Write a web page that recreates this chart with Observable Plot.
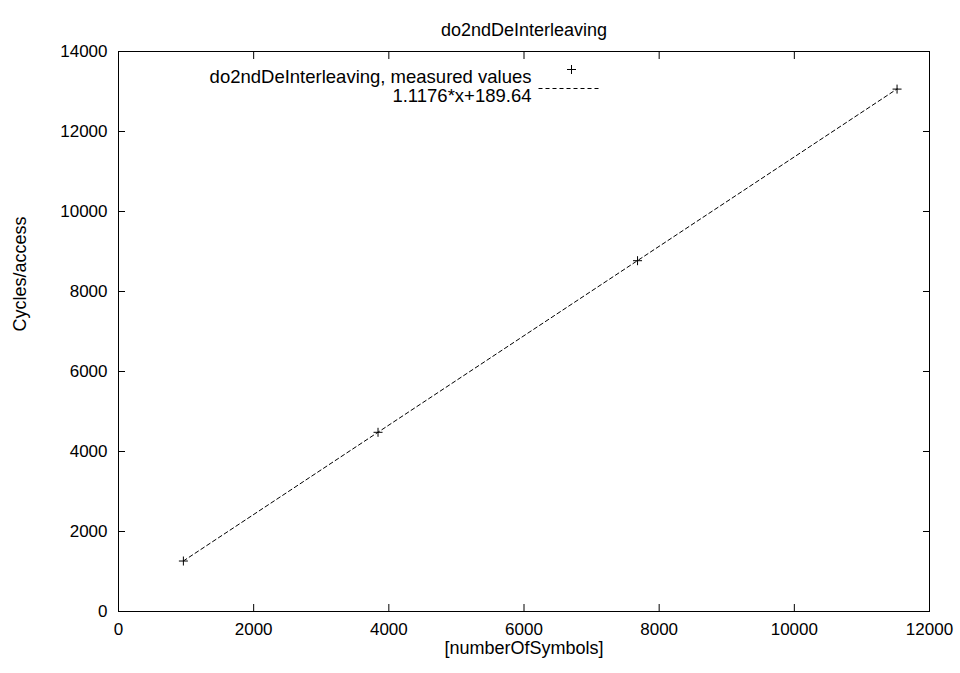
<!DOCTYPE html>
<html>
<head>
<meta charset="utf-8">
<script src="https://cdn.jsdelivr.net/npm/d3@7"></script>
<script src="https://cdn.jsdelivr.net/npm/@observablehq/plot@0.6"></script>
<style>
  html, body { margin: 0; padding: 0; background: #fff; }
  #chart svg { display: block; }
</style>
</head>
<body>
<div id="chart"></div>
<script>
// Measured points
const symbols = [960, 3840, 7680, 11520];
const cycles = [1262, 4480, 8770, 13060];
// Fitted line endpoints (1.1176*x+189.64)
const fitSymbols = [960, 11520];
const fitCycles = [1263, 13064];
// Ticks
const xTicks = [0, 2000, 4000, 6000, 8000, 10000, 12000];
const yTicks = [0, 2000, 4000, 6000, 8000, 10000, 12000, 14000];
// Texts
const titleText = "do2ndDeInterleaving";
const xLabel = "[numberOfSymbols]";
const yLabel = "Cycles/access";
const legendLabels = ["do2ndDeInterleaving, measured values", "1.1176*x+189.64"];

const points = symbols.map((s, i) => ({x: s, y: cycles[i]}));
const fit = fitSymbols.map((s, i) => ({x: s, y: fitCycles[i]}));

const plusSymbol = {
  draw(context, size) {
    const r = 4.5;
    context.moveTo(-r, 0); context.lineTo(r, 0);
    context.moveTo(0, -r); context.lineTo(0, r);
  }
};
const dashSymbol = {
  draw(context, size) {
    context.moveTo(-30, 0); context.lineTo(30, 0);
  }
};

const chart = Plot.plot({
  width: 960,
  height: 673,
  marginLeft: 118,
  marginRight: 31,
  marginTop: 51,
  marginBottom: 62,
  style: {fontFamily: "'Liberation Sans', Arial, sans-serif", fontSize: "17px", background: "white", color: "black"},
  x: {domain: [0, 12000]},
  y: {domain: [0, 14000]},
  marks: [
    Plot.frame({stroke: "black", strokeWidth: 1}),
    Plot.axisX({ticks: xTicks, tickSize: -7, tickPadding: 18, label: null, tickFormat: d => String(d), fontSize: 17}),
    Plot.axisX({anchor: "top", ticks: xTicks, tickSize: -7, tickFormat: () => "", label: null}),
    Plot.axisY({ticks: yTicks, tickSize: -7, tickPadding: 18, label: null, tickFormat: d => String(d), fontSize: 17}),
    Plot.axisY({anchor: "right", ticks: yTicks, tickSize: -7, tickFormat: () => "", label: null}),
    Plot.line(fit, {x: "x", y: "y", stroke: "black", strokeWidth: 1, strokeDasharray: "4,3"}),
    Plot.dot(points, {x: "x", y: "y", symbol: plusSymbol, stroke: "black", fill: "none", strokeWidth: 1}),
    // Title and axis labels
    Plot.text([titleText], {text: d => d, frameAnchor: "top", dy: -28, fontSize: 18}),
    Plot.text([xLabel], {text: d => d, frameAnchor: "bottom", dy: 42, fontSize: 18}),
    Plot.text([yLabel], {text: d => d, frameAnchor: "left", dx: -98, rotate: -90, fontSize: 18}),
    // Legend
    Plot.text([legendLabels[0]], {text: d => d, frameAnchor: "top-left", dx: 413, dy: 18, textAnchor: "end", fontSize: 18.5}),
    Plot.text([legendLabels[1]], {text: d => d, frameAnchor: "top-left", dx: 413, dy: 37, textAnchor: "end", fontSize: 18.5}),
    Plot.dot([0], {frameAnchor: "top-left", dx: 453, dy: 18, symbol: plusSymbol, stroke: "black", fill: "none", strokeWidth: 1}),
    Plot.dot([0], {frameAnchor: "top-left", dx: 450, dy: 37, symbol: dashSymbol, stroke: "black", fill: "none", strokeWidth: 1, strokeDasharray: "4,3"})
  ]
});
document.getElementById("chart").appendChild(chart);
</script>
</body>
</html>
